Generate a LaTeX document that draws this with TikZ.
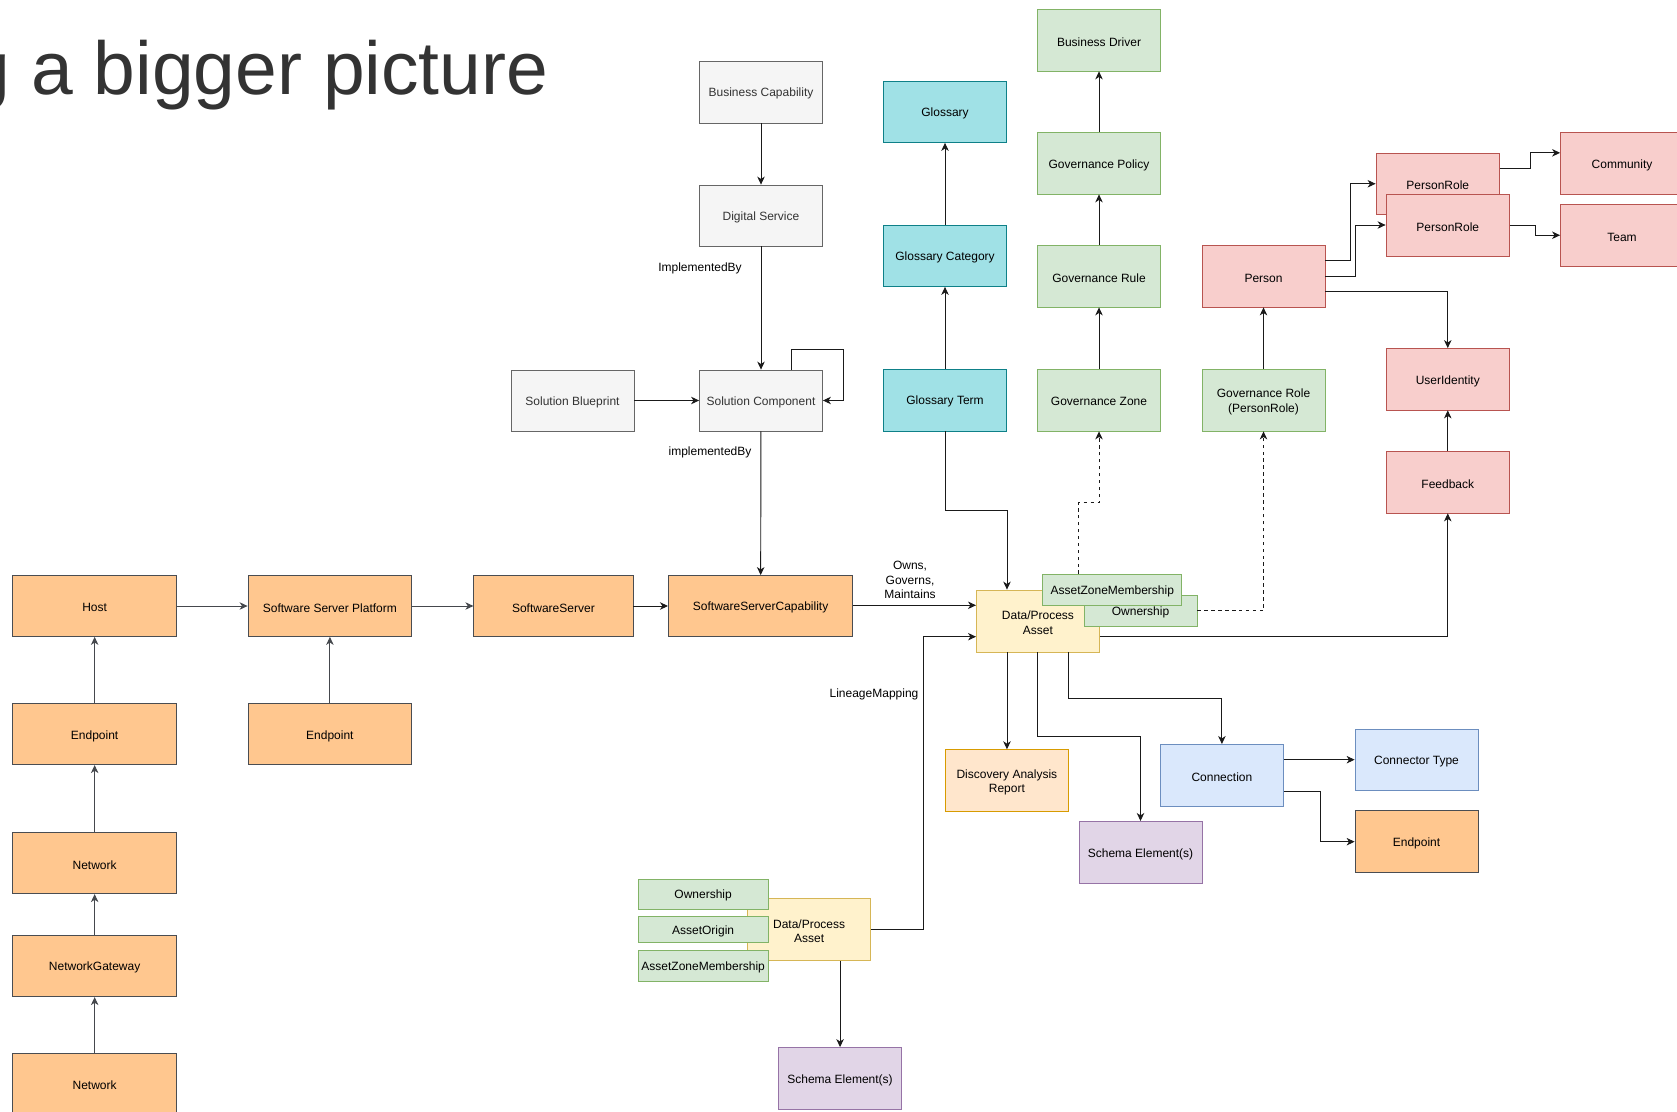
\documentclass[tikz,border=0pt]{standalone}
\usepackage{fontspec}
\setmainfont{Liberation Sans}
\usetikzlibrary{arrows.meta,calc}

\definecolor{grayfill}{HTML}{F5F5F5}\definecolor{graydraw}{HTML}{666666}
\definecolor{cyanfill}{HTML}{A0E1E6}\definecolor{cyandraw}{HTML}{0E8088}
\definecolor{greenfill}{HTML}{D5E8D4}\definecolor{greendraw}{HTML}{82B366}
\definecolor{redfill}{HTML}{F8CECC}\definecolor{reddraw}{HTML}{B85450}
\definecolor{orfill}{HTML}{FFC78F}\definecolor{ordraw}{HTML}{4A4D52}
\definecolor{yelfill}{HTML}{FFF2CC}\definecolor{yeldraw}{HTML}{D6B656}
\definecolor{discfill}{HTML}{FFE6CC}\definecolor{discdraw}{HTML}{D79B00}
\definecolor{purfill}{HTML}{E1D5E7}\definecolor{purdraw}{HTML}{9673A6}
\definecolor{bluefill}{HTML}{DAE8FC}\definecolor{bluedraw}{HTML}{6C8EBF}
\definecolor{titlecol}{HTML}{333333}
\definecolor{linecol}{HTML}{1A1A1A}
\definecolor{netline}{HTML}{45484D}

% box given by its corners: name, x1, y1, x2, y2, style, text
% the caption sits in its own node, set slightly below the box centre
\newcommand\bx[7]{%
  \node[box,#6,minimum width={((#4)-(#2))*0.75pt},minimum height={((#5)-(#3))*0.75pt}] (#1) at ({((#2)+(#4))/2},{((#3)+(#5))/2}) {};
  \node[#6,boxtext] (#1-txt) at ([yshift=-1.3pt]#1.center) {#7};}

\begin{document}
\begin{tikzpicture}[x=0.75pt,y=-0.75pt,
  box/.style={rectangle,draw,line width=0.6pt,inner sep=0pt},
  boxtext/.style={draw=none,fill=none,inner sep=0pt,align=center,
    font=\fontsize{9}{10.8}\selectfont},
  grayb/.style={fill=grayfill,draw=graydraw,text=titlecol},
  cyanb/.style={fill=cyanfill,draw=cyandraw,text=black},
  greenb/.style={fill=greenfill,draw=greendraw,text=black},
  redb/.style={fill=redfill,draw=reddraw,text=black},
  orb/.style={fill=orfill,draw=ordraw,text=black},
  yelb/.style={fill=yelfill,draw=yeldraw,text=black},
  discb/.style={fill=discfill,draw=discdraw,text=black},
  purb/.style={fill=purfill,draw=purdraw,text=black},
  blueb/.style={fill=bluefill,draw=bluedraw,text=black},
  conn/.style={draw=linecol,line width=0.7pt,-{Stealth[length=6pt,width=5.6pt,inset=1.8pt]}},
  netconn/.style={conn,draw=netline},
  dsh/.style={dash pattern=on 2.6pt off 2.6pt},
  lbl/.style={inner sep=0pt,align=center,font=\fontsize{9}{10.8}\selectfont}]
\useasboundingbox (0,0) rectangle (1677,1112);
\clip (0,0) rectangle (1677,1112);
\fill[white] (0,0) rectangle (1677,1112);

% heading
\node[anchor=base west,inner sep=0pt,text=titlecol,font=\fontsize{56.25}{60}\selectfont] (title) at (-31.5,95) {g a bigger picture};

% solution architecture
\bx{bcap}{699.5}{61}{822.5}{123}{grayb}{Business Capability}
\bx{dsvc}{699.5}{185}{822.5}{246}{grayb}{Digital Service}
\bx{scomp}{699.5}{370}{822.5}{431}{grayb}{Solution Component}
\bx{sblue}{511}{370}{634}{431}{grayb}{Solution Blueprint}

% glossary
\bx{gloss}{883.5}{81}{1006.5}{142.5}{cyanb}{Glossary}
\bx{gcat}{883.5}{225}{1006.5}{286.5}{cyanb}{Glossary Category}
\bx{gterm}{883.5}{369}{1006.5}{431}{cyanb}{Glossary Term}

% governance
\bx{bdrv}{1037.5}{9.5}{1160.5}{71}{greenb}{Business Driver}
\bx{gpol}{1037.5}{132.5}{1160.5}{194}{greenb}{Governance Policy}
\bx{grule}{1037.5}{245.5}{1160.5}{307}{greenb}{Governance Rule}
\bx{gzone}{1037.5}{369}{1160.5}{431}{greenb}{Governance Zone}
\bx{grole}{1202}{369}{1325}{431}{greenb}{Governance Role\\(PersonRole)}

% people
\bx{person}{1202}{245.5}{1325}{307}{redb}{Person}
\bx{pr1}{1376}{153}{1499.5}{214.5}{redb}{PersonRole}
\bx{pr2}{1386}{194}{1509.5}{256}{redb}{PersonRole}
\bx{comm}{1560.5}{132.5}{1683.5}{194}{redb}{Community}
\bx{team}{1560.5}{204.5}{1683.5}{266}{redb}{Team}
\bx{uid}{1386}{348.5}{1509.5}{410}{redb}{UserIdentity}
\bx{fb}{1386}{451}{1509.5}{513}{redb}{Feedback}

% infrastructure
\bx{host}{12.8}{575.5}{176.5}{636.5}{orb}{Host}
\bx{ssp}{248}{575.5}{411.8}{636.5}{orb}{Software Server Platform}
\bx{ssrv}{473.8}{575.5}{633}{636.5}{orb}{SoftwareServer}
\bx{ssc}{668.4}{575.5}{852.8}{636.5}{orb}{SoftwareServerCapability}
\bx{ep1}{12.8}{703.7}{176.5}{764.7}{orb}{Endpoint}
\bx{ep2}{248}{703.7}{411.8}{764.7}{orb}{Endpoint}
\bx{net1}{12.8}{832.3}{176.5}{893.7}{orb}{Network}
\bx{ngw}{12.8}{935}{176.5}{996.7}{orb}{NetworkGateway}
\bx{net2}{12.8}{1053.3}{176.5}{1114.5}{orb}{Network}

% main asset and its classifications
\bx{dpa}{976.4}{590}{1099.5}{652}{yelb}{Data/Process\\Asset}
\bx{own}{1084}{595.5}{1197}{626}{greenb}{Ownership}
\bx{azm}{1042.8}{574.3}{1181.8}{605.3}{greenb}{AssetZoneMembership}

\bx{disc}{945.4}{749.7}{1068.4}{811.8}{discb}{Discovery Analysis\\Report}
\bx{sch1}{1079}{821.4}{1202}{883.4}{purb}{Schema Element(s)}
\bx{conn}{1160.4}{744.4}{1283.4}{806.4}{blueb}{Connection}
\bx{ctype}{1355}{729}{1478}{790.5}{blueb}{Connector Type}
\bx{ep3}{1355}{810.7}{1478}{872.7}{orb}{Endpoint}

% upstream asset
\bx{dpa2}{747.6}{898.4}{870.6}{960.4}{yelb}{Data/Process\\Asset}
\bx{own2}{638}{879}{768.3}{909.3}{greenb}{Ownership}
\bx{aor}{638}{916.7}{768.3}{942.3}{greenb}{AssetOrigin}
\bx{azm2}{638}{950}{768.3}{981}{greenb}{AssetZoneMembership}
\bx{sch2}{778.5}{1047.5}{901.6}{1109.3}{purb}{Schema Element(s)}

% --- connectors ---
\draw[conn] (bcap) -- (dsvc);
\draw[conn] (dsvc) -- (scomp);
\node[lbl] (lblimpl1) at (700,268) {ImplementedBy};
\draw[conn] ($(scomp.north west)!0.75!(scomp.north east)$) |- (843.3,349) |- (scomp.east);
\draw[conn] (sblue) -- (scomp);
\draw[conn] (scomp) -- (ssc);
\node[lbl] (lblimpl2) at (710,452) {implementedBy};

\draw[netconn] (host) -- (ssp);
\draw[netconn] (ssp) -- (ssrv);
\draw[conn] (ssrv) -- (ssc);
\draw[netconn] (ep1) -- (host);
\draw[netconn] (ep2) -- (ssp);
\draw[netconn] (net1) -- (ep1);
\draw[netconn] (ngw) -- (net1);
\draw[netconn] (net2) -- (ngw);

\coordinate (dpaW25) at ($(dpa.north west)!0.25!(dpa.south west)$);
\coordinate (dpaW75) at ($(dpa.north west)!0.75!(dpa.south west)$);
\coordinate (dpaE75) at ($(dpa.north east)!0.75!(dpa.south east)$);
\coordinate (dpaN25) at ($(dpa.north west)!0.25!(dpa.north east)$);
\coordinate (dpaS25) at ($(dpa.south west)!0.25!(dpa.south east)$);
\coordinate (dpaS75) at ($(dpa.south west)!0.75!(dpa.south east)$);

\draw[conn] (ssc.east |- dpaW25) -- (dpaW25);
\node[lbl] (lblowns) at (910,580) {Owns,\\Governs,\\Maintains};

\draw[conn] (gcat) -- (gloss);
\draw[conn] (gterm) -- (gcat);
\draw[conn] (gterm.south) -- ++(0,79) -| (dpaN25);

\draw[conn] (gpol) -- (bdrv);
\draw[conn] (grule) -- (gpol);
\draw[conn] (gzone) -- (grule);
\draw[conn] (grole) -- (person);
\draw[conn,dsh] ($(azm.north west)!0.26!(azm.north east)$) -- ++(0,-71.3) -| (gzone.south);
\draw[conn,dsh] (own.east) -| (grole.south);

\draw[conn] ($(person.north east)!0.25!(person.south east)$) -- ++(25.3,0) |- (pr1.west);
\draw[conn] ($(person.north east)!0.5!(person.south east)$) -- ++(30.3,0) |- (pr2.west);
\draw[conn] ($(person.north east)!0.75!(person.south east)$) -| (uid.north);
\draw[conn] ($(pr1.north east)!0.25!(pr1.south east)$) -- ++(30.3,0) |- ($(comm.north west)!0.333!(comm.south west)$);
\draw[conn] (pr2.east) -- ++(25.5,0) |- (team.west);
\draw[conn] (fb) -- (uid);
\draw[conn] (dpaE75) -| (fb.south);

\draw[conn] (dpaS25) -- (dpaS25 |- disc.north);
\draw[conn] (dpa.south) -- ++(0,83.8) -| (sch1.north);
\draw[conn] (dpaS75) -- ++(0,46.4) -| (conn.north);
\coordinate (connE25) at ($(conn.north east)!0.25!(conn.south east)$);
\draw[conn] (connE25) -- (ctype.west |- connE25);
\draw[conn] ($(conn.north east)!0.75!(conn.south east)$) -- ++(36.4,0) |- (ep3.west);

\draw[conn] ($(dpa2.south west)!0.75!(dpa2.south east)$) -- (sch2.north);
\draw[conn] (dpa2.east) -- ++(52.7,0) |- (dpaW75);
\node[lbl] (lbllin) at (874,694) {LineageMapping};
\end{tikzpicture}
\end{document}
